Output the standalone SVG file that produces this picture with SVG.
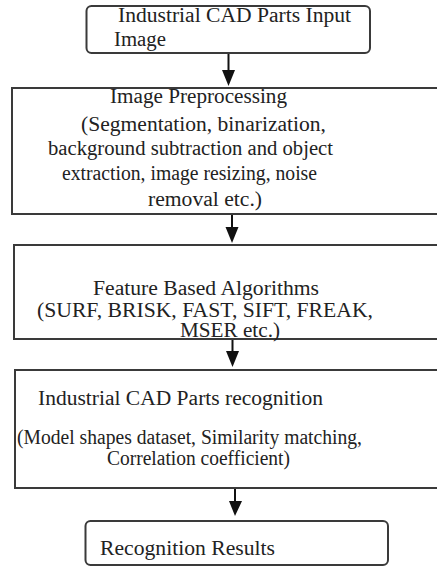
<svg xmlns="http://www.w3.org/2000/svg" width="437" height="566" viewBox="0 0 437 566">
<style>
.box{fill:#fff;stroke:#3a3a3a;stroke-width:2}
.t{font-size:20px;fill:#222}
.c{stroke:#111;stroke-width:2;fill:none}
.ah{fill:#111}
</style>
<rect width="437" height="566" fill="#fff"/>
<g id="connectors">
<line class="c" x1="228.5" y1="54" x2="228.5" y2="71"/>
<path class="ah" d="M222,70 L235,70 L228.5,86 Z"/>
<line class="c" x1="232" y1="214" x2="232" y2="228"/>
<path class="ah" d="M225.5,227 L238.5,227 L232,243 Z"/>
<line class="c" x1="232.5" y1="339" x2="232.5" y2="352"/>
<path class="ah" d="M226,351 L239,351 L232.5,367 Z"/>
<line class="c" x1="235" y1="488" x2="235" y2="502"/>
<path class="ah" d="M229,501 L242,501 L235,516 Z"/>
</g>
<g font-family="Liberation Serif, Times New Roman, DejaVu Serif, serif">
<g id="n1">
<rect class="box" x="86.5" y="6" width="283.5" height="47" rx="5"/>
<text class="t" x="118" y="22" textLength="233" lengthAdjust="spacingAndGlyphs">Industrial CAD Parts Input</text>
<text class="t" x="114" y="46" textLength="52" lengthAdjust="spacingAndGlyphs">Image</text>
</g>
<g id="n2">
<rect class="box" x="12" y="88" width="440" height="126"/>
<text class="t" x="110" y="103" textLength="177" lengthAdjust="spacingAndGlyphs">Image Preprocessing</text>
<text class="t" x="81" y="131" textLength="245" lengthAdjust="spacingAndGlyphs">(Segmentation, binarization,</text>
<text class="t" x="48" y="155" textLength="285" lengthAdjust="spacingAndGlyphs">background subtraction and object</text>
<text class="t" x="62" y="180" textLength="255" lengthAdjust="spacingAndGlyphs">extraction, image resizing, noise</text>
<text class="t" x="148" y="206" textLength="114" lengthAdjust="spacingAndGlyphs">removal etc.)</text>
</g>
<g id="n3">
<rect class="box" x="14" y="245" width="440" height="94"/>
<text class="t" x="93" y="295" textLength="226" lengthAdjust="spacingAndGlyphs">Feature Based Algorithms</text>
<text class="t" x="37" y="317" textLength="336" lengthAdjust="spacingAndGlyphs">(SURF, BRISK, FAST, SIFT, FREAK,</text>
<text class="t" x="180" y="337" textLength="100" lengthAdjust="spacingAndGlyphs">MSER etc.)</text>
</g>
<g id="n4">
<rect class="box" x="15" y="370" width="440" height="118"/>
<text class="t" x="38" y="405" textLength="285" lengthAdjust="spacingAndGlyphs">Industrial CAD Parts recognition</text>
<text class="t" x="17" y="444" textLength="345" lengthAdjust="spacingAndGlyphs">(Model shapes dataset, Similarity matching,</text>
<text class="t" x="107" y="465" textLength="183" lengthAdjust="spacingAndGlyphs">Correlation coefficient)</text>
</g>
<g id="n5">
<rect class="box" x="85.5" y="521" width="302.5" height="44" rx="5"/>
<text class="t" x="100" y="555" textLength="175" lengthAdjust="spacingAndGlyphs">Recognition Results</text>
</g>
</g>
</svg>
